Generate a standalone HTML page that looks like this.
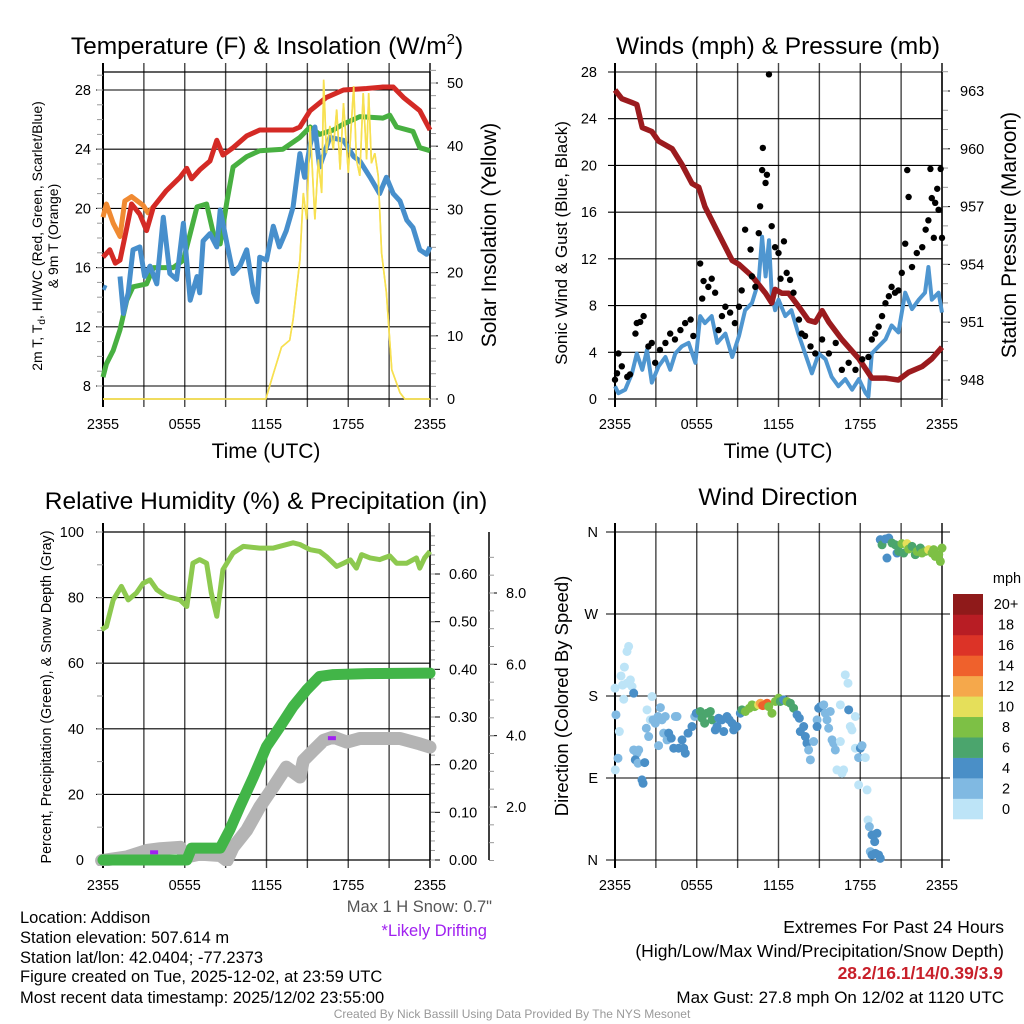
<!DOCTYPE html>
<html><head><meta charset="utf-8"><style>
html,body{margin:0;padding:0;background:#fff;}
svg{display:block;font-family:"Liberation Sans",Arial,sans-serif;}
</style></head><body>
<svg id="fig" width="1024" height="1024" viewBox="0 0 1024 1024" xmlns="http://www.w3.org/2000/svg">
<g id="static">
<text x="267" y="54" font-size="24.5" text-anchor="middle">Temperature (F) &amp; Insolation (W/m<tspan dy="-10" font-size="15">2</tspan><tspan dy="10">)</tspan></text>
<text x="778" y="54" font-size="24.5" text-anchor="middle">Winds (mph) &amp; Pressure (mb)</text>
<text x="266" y="509" font-size="24.5" text-anchor="middle">Relative Humidity (%) &amp; Precipitation (in)</text>
<text x="778" y="505" font-size="24.5" text-anchor="middle">Wind Direction</text>

<text x="266" y="458" font-size="21" text-anchor="middle">Time (UTC)</text>
<text x="778" y="458" font-size="21" text-anchor="middle">Time (UTC)</text>

<text transform="translate(42,236) rotate(-90)" font-size="14" text-anchor="middle">2m T, T<tspan font-size="10" dy="3">d</tspan><tspan dy="-3">, HI/WC (Red, Green, Scarlet/Blue)</tspan></text>
<text transform="translate(58,236) rotate(-90)" font-size="14" text-anchor="middle">&amp; 9m T (Orange)</text>
<text transform="translate(496,235) rotate(-90)" font-size="21" text-anchor="middle">Solar Insolation (Yellow)</text>
<text transform="translate(567,243) rotate(-90)" font-size="17" text-anchor="middle">Sonic Wind &amp; Gust (Blue, Black)</text>
<text transform="translate(1016,235) rotate(-90)" font-size="21" text-anchor="middle">Station Pressure (Maroon)</text>
<text transform="translate(51,697) rotate(-90)" font-size="14.3" text-anchor="middle">Percent, Precipitation (Green), &amp; Snow Depth (Gray)</text>
<text transform="translate(568,696) rotate(-90)" font-size="18.5" text-anchor="middle">Direction (Colored By Speed)</text>

<text x="492" y="912" font-size="16.5" fill="#555" text-anchor="end">Max 1 H Snow: 0.7"</text>
<text x="487" y="936" font-size="16.5" fill="#a020f0" text-anchor="end">*Likely Drifting</text>

<g font-size="16.5">
<text x="20" y="923">Location: Addison</text>
<text x="20" y="943">Station elevation: 507.614 m</text>
<text x="20" y="963">Station lat/lon: 42.0404; -77.2373</text>
<text x="20" y="982">Figure created on Tue, 2025-12-02, at 23:59 UTC</text>
<text x="20" y="1003">Most recent data timestamp: 2025/12/02 23:55:00</text>
</g>
<g font-size="17" text-anchor="end">
<text x="1004" y="933" font-size="17.5">Extremes For Past 24 Hours</text>
<text x="1004" y="957" font-size="17.5">(High/Low/Max Wind/Precipitation/Snow Depth)</text>
<text x="1003" y="979" font-size="17.5" fill="#c8202a" font-weight="bold">28.2/16.1/14/0.39/3.9</text>
<text x="1004" y="1003">Max Gust: 27.8 mph On 12/02 at 1120 UTC</text>
</g>
<text x="512" y="1018" font-size="12" fill="#999" text-anchor="middle">Created By Nick Bassill Using Data Provided By The NYS Mesonet</text>
</g>
<g id="dyn"></g>
</svg>
<script>
// ---------- DATA ----------
const timeTicks = ["2355","0555","1155","1755","2355"];
// Temperature panel
const redT = [0,0.5,0.9,1.25,1.75,2.1,2.7,3.2,3.7,4.65,5.65,6.15,6.5,7.1,7.85,8.35,8.8,9.55,10.55,11.5,13.95,14.45,15.2,16.4,17.65,19.35,20.55,21.3,22.05,23.25,24];
const redV = [16.7,17.2,16.3,16.5,18.7,20.3,19.6,18.5,20.1,21.2,22.1,22.7,22.0,22.6,23.2,24.6,23.6,24.1,24.9,25.3,25.3,25.5,26.6,27.5,28.0,28.1,28.2,28.2,27.5,26.6,25.3];
const orangeT = [0,0.25,0.75,1.25,1.6,2.1,2.95,3.3,3.7];
const orangeV = [19.4,20.3,19.0,18.1,20.5,20.8,20.2,19.7,20.1];
const greenT = [0,0.25,0.75,1.25,1.75,2.2,3.2,3.7,5.15,5.9,6.4,6.9,7.6,8.1,8.6,9.1,9.55,10.55,11.5,13.2,14.45,15.2,15.9,16.9,17.65,18.85,20.55,21.05,21.55,22.75,23.25,24];
const greenV = [8.6,9.5,10.4,11.8,13.8,14.7,14.9,16.0,16.0,16.5,18.3,20.1,20.3,18.3,17.6,20.5,22.8,23.5,23.9,24.0,24.8,25.5,25.0,25.3,25.7,26.2,26.1,26.3,25.5,25.2,24.1,23.9];
const blueT = [0,0.25,null,1.25,1.5,1.85,2.2,2.7,3.05,3.45,3.95,4.425,4.9,5.4,5.9,6.4,6.9,7.1,7.35,7.85,8.35,8.6,9.1,9.55,10.05,10.55,11.05,11.3,11.5,12.0,12.5,12.95,13.45,13.95,14.45,14.8,15.2,15.55,15.9,16.3,16.65,17.65,18.4,18.85,19.6,20.3,20.8,21.3,21.8,22.3,22.75,23.25,23.75,24];
const blueV = [14.7,14.6,null,15.4,12.9,14.3,17.2,17.4,15.4,16.1,14.9,19.4,15.6,15.2,19.0,13.8,15.4,14.3,17.8,18.3,17.4,19.9,17.6,15.6,16.1,17.2,14.3,13.7,16.7,16.5,18.8,17.4,18.5,20.1,23.7,22.1,24.3,25.5,22.8,23.9,24.8,24.6,23.5,23.2,22.1,21.0,22.1,21.0,20.5,19.2,18.7,17.2,16.9,17.4];
const solarT = [0,11.95,12.45,13.1,13.7,13.95,14.45,14.7,14.95,15.2,15.55,15.8,16.05,16.2,16.4,16.65,16.9,17.15,17.4,17.65,18.0,18.4,18.6,18.85,19.1,19.35,19.5,19.7,19.95,20.2,20.45,20.8,21.2,21.8,22.15,24];
const solarV = [0,0,3.6,8.2,9.3,12.6,22.0,32.6,28.4,43.2,28.4,37.9,32.6,50.5,38.9,43.2,39.5,45.8,36.3,46.8,35.8,49.5,37.9,35.3,48.4,37.9,48.4,37.3,38.9,35.3,23.1,16.8,4.6,1.0,0,0];
const tempTicks = [8,12,16,20,24,28];
const solarTicks = [0,10,20,30,40,50];
// Wind panel
const windT = [0,0.25,0.75,1.25,1.6,2.0,2.35,2.7,3.2,3.7,4.05,4.425,4.9,5.4,5.9,6.25,6.6,7.1,7.5,8.1,8.6,9.1,9.55,10.05,10.55,10.8,11.05,11.3,11.5,11.75,12.0,12.5,12.95,13.45,13.95,14.45,14.95,15.45,15.9,16.4,16.9,17.4,17.9,18.4,18.6,18.85,19.35,19.85,20.3,20.8,21.3,21.8,22.3,22.75,23.0,23.25,23.75,24];
const windV = [1.1,0.5,0.8,2.2,3.9,2.5,4.2,1.4,2.8,3.6,2.5,3.9,4.5,4.8,3.1,7.1,6.5,7.1,4.8,5.6,3.6,5.4,7.6,8.2,10.1,13.9,10.5,13.6,9.0,7.6,8.5,7.1,7.6,5.6,3.9,2.2,3.9,3.4,1.9,1.1,1.7,0.8,1.7,0.5,0.2,3.9,4.5,5.1,6.3,5.7,9.1,7.7,8.5,9.1,11.3,8.5,9.1,7.4];
const gustT = [0,0.15,0.25,0.5,0.9,1.1,1.5,1.6,1.85,2.1,2.45,2.7,2.95,3.3,3.7,4.05,4.4,4.8,5.15,5.55,5.75,6.25,6.4,6.5,6.85,7.1,7.35,7.6,7.85,8.1,8.45,8.8,9.1,9.3,9.55,9.95,10.05,10.3,10.55,10.65,10.8,10.85,11.05,11.15,11.3,11.5,11.75,12.0,12.15,12.4,12.6,12.85,13.1,13.5,13.7,13.95,14.35,14.7,15.2,15.7,16.2,16.65,17.15,17.65,18.15,18.6,18.85,19.1,19.35,19.6,19.85,20.1,20.3,20.55,20.8,21.05,21.3,21.45,21.55,21.8,22.15,22.55,22.8,23.0,23.15,23.25,23.4,23.5,23.65,23.75,23.9,24];
const gustV = [1.65,2.2,3.9,2.8,1.9,2.1,5.6,6.5,6.6,7.1,4.5,4.8,3.1,4.2,4.8,5.6,5.1,5.9,6.5,6.8,5.4,11.6,8.6,10.1,9.6,10.3,9.1,5.9,7.1,7.9,7.4,6.5,7.9,9.3,14.5,12.8,10.5,9.6,14.2,16.5,19.6,21.5,18.5,19.2,27.8,14.8,13.0,12.5,10.3,13.5,10.8,10.2,9.1,6.8,5.6,5.4,4.5,3.9,5.1,3.9,4.8,2.5,3.1,2.5,3.4,3.6,5.1,5.6,6.2,7.1,8.2,8.8,9.6,9.1,9.3,10.8,13.3,19.6,17.3,11.3,12.5,13.0,14.5,15.3,19.7,17.2,13.8,16.8,18.0,16.2,19.7,13.8];
const presT = [0,0.5,1.25,1.6,2.0,2.7,3.2,4.2,4.9,5.65,6.15,6.6,7.6,8.6,9.1,10.05,11.05,11.5,11.75,12.25,12.75,13.5,14.2,14.7,15.2,15.7,16.65,17.9,18.85,19.85,20.8,21.55,22.55,23.25,24];
const presV = [963.05,962.6,962.4,962.3,961.1,960.9,960.4,960.0,959.2,958.2,958.0,957.0,955.6,954.2,954.0,953.4,952.5,952.0,952.7,952.5,952.5,951.8,951.1,951.0,951.6,951.0,950.1,949.1,948.1,948.1,948.0,948.4,948.7,949.1,949.7];
const windTicks = [0,4,8,12,16,20,24,28];
const presTicks = [948,951,954,957,960,963];
// Humidity panel
const rhT = [-0.1,0.25,0.75,1.35,1.85,2.45,2.95,3.45,3.95,4.65,5.65,6.15,6.6,7.1,7.6,7.95,8.35,8.8,9.55,10.3,11.5,12.5,13.95,14.45,15.2,15.9,16.4,16.9,17.15,17.65,18.15,18.6,18.98,19.6,20.3,21.05,21.55,22.3,23.0,23.25,23.6,24];
const rhV = [70.2,71.2,79.3,83.4,79.3,81.4,84.4,85.4,82.4,80.4,79.3,77.3,90.5,91.6,90.5,81.4,74.3,88.5,93.6,95.6,95.1,95.1,96.7,96.2,94.6,94.1,92.5,90.5,89.5,90.5,91.5,89.0,93.1,92.1,91.6,92.7,90.5,90.5,92.1,89.0,92.1,94.1];
const precipT = [0,6.15,6.5,8.6,9.3,10.05,11.05,12.0,13.0,13.95,14.95,15.9,16.9,19.35,24];
const precipV = [0,0,0.025,0.025,0.063,0.112,0.175,0.238,0.28,0.322,0.357,0.385,0.389,0.391,0.392];
const snowT = [-0.1,1.75,3.2,4.2,5.65,6.15,7.1,8.6,9.1,9.55,10.55,11.5,12.5,13.45,14.45,14.7,15.45,16.2,16.9,17.9,18.85,21.8,23.25,24];
const snowV = [0.5,0.6,0.78,0.83,0.87,0.6,0.68,0.64,0.5,0.87,1.35,2.0,2.56,3.12,2.84,3.3,3.59,3.87,3.96,3.82,3.92,3.92,3.77,3.68];
const driftT = [3.75,16.8];
const driftV = [0.73,3.93];
const rhTicks = [0,20,40,60,80,100];
const precipTicks = ["0.00","0.10","0.20","0.30","0.40","0.50","0.60"];
const snowTicks = ["2.0","4.0","6.0","8.0"];
// Direction panel (hours, degrees, mph)
const dirT = [
0,0.07,0.22,0.02,0.32,0.44,0.56,0.69,0.64,0.88,
1.0,1.13,0.88,1.25,1.37,1.37,1.61,1.49,1.74,1.69,
1.98,2.06,2.18,2.3,2.35,2.47,2.59,2.72,2.79,2.96,
3.16,3.33,3.2,3.45,3.57,3.69,3.82,3.94,4.13,4.31,
4.43,4.55,4.67,4.92,5.04,5.16,5.36,5.65,5.85,5.97,
6.26,6.39,6.58,6.75,7.0,7.12,7.36,7.49,7.61,7.85,
7.98,8.22,8.39,8.59,8.71,8.95,9.2,9.32,9.57,9.86,
10.06,10.25,10.54,10.67,10.84,11.03,11.16,11.28,11.52,11.77,
12.01,12.13,12.38,12.62,12.87,13.11,13.36,13.53,13.6,13.85,
13.97,14.09,14.21,14.34,14.58,14.83,14.83,14.95,15.07,15.32,
15.44,15.56,15.68,15.8,15.93,16.05,16.17,16.29,16.54,16.54,
16.66,16.78,16.9,17.1,17.15,17.27,17.39,17.64,17.64,17.88,
18.01,18.13,18.37,17.88,18.5,18.57,18.67,18.86,19.06,18.98,
19.23,18.74,18.86,19.11,19.35,19.47,
19.47,19.6,19.84,19.96,20.09,20.33,20.57,20.7,20.82,21.06,
21.19,21.43,21.55,21.8,22.04,22.17,22.41,22.53,22.78,23.02,
23.27,23.39,23.51,23.76,23.88,24];
const dirD = [
188.6,159.3,111.7,98.9,141,202,192,211.7,176.5,228.9,
234.4,197.7,194,190.4,183.1,120.8,117.2,109.9,120.8,106.2,
87.9,84.2,106.9,144.6,164.8,135.5,153.8,179.4,153.8,150.1,
157.5,167.3,125.6,153.8,139.2,157.5,131.8,139.2,133.7,122.7,
157.5,157.5,122.7,131.8,122.7,117.2,139.2,146.5,157.5,161.1,
163,155.6,150.1,161.1,163,153.8,142.8,146.5,155.6,153.8,
141,157.5,153.8,150.1,142.8,146.5,161.1,164.8,163,166.6,
170.3,168.4,170.3,172.1,169.5,170.3,172.1,168.4,161.1,174,
177.6,174,175.8,174,172.1,166.6,159.3,155.6,141,146.5,
135.5,128.2,120.8,109.9,130,153.8,146.5,166.6,168.4,170.3,
161.1,153.8,144.6,163,131.8,128.2,120.8,98.9,130,170.3,
95.2,98.9,203.2,194,164.8,146.5,142.8,157.5,122.7,112.4,
122.7,125.6,112.4,82.4,76.9,43.9,36.6,27.5,20.1,27.5,
29.3,9.2,5.5,7.3,5.5,1.8,
351.6,346,352.3,331.4,353.4,347.9,346,336.9,338.7,347.2,
336.9,347.2,341.3,344.2,335.1,338.7,342.4,336.9,338.7,340.6,
336.9,340.6,333.2,335.1,327.7,342.4];
const dirS = [
1,3,3,1,1,1,1,1,1,1,
1,1,1,1,4,3,3,4,3,3,
4,4,4,3,1,3,1,1,3,3,
3,3,3,3,3,3,3,4,4,4,
3,3,4,4,4,4,4,4,3,4,
6,6,6,6,6,6,4,4,4,4,
4,4,4,4,4,4,4,6,8,8,
8,8,10,12,14,14,14,8,8,8,
8,6,4,8,6,6,4,4,4,4,
4,4,3,3,3,3,4,4,4,3,
3,3,3,3,3,3,3,1,1,1,
1,1,1,1,4,1,1,1,1,3,
4,3,1,1,1,1,3,4,4,4,
4,3,4,4,4,4,
4,6,4,4,4,6,6,4,6,8,
6,10,8,6,6,8,6,8,8,10,
8,8,8,8,8,8];
const speedBins = ["0","2","4","6","8","10","12","14","16","18","20+"];
const speedColors = ["#bde4f7","#80b9e2","#4a8fc7","#4ba56d","#7dc045","#e5df5a","#f5a84b","#ef612c","#dc3327","#b81d24","#8f1a1a"];
const dirTicks = ["N","E","S","W","N"];

// ---------- DRAW ----------
const NS = "http://www.w3.org/2000/svg";
const dyn = document.getElementById("dyn");
function el(tag, attrs, parent) {
  const e = document.createElementNS(NS, tag);
  for (const k in attrs) e.setAttribute(k, attrs[k]);
  (parent || dyn).appendChild(e);
  return e;
}
const TOP1 = 72, BOT1 = 399, TOP3 = 532, BOT3 = 860;
function xs(x0) { return t => x0 + t * 327 / 24; }
function lin(v0, v1, p0, p1) { return v => p0 + (v - v0) * (p1 - p0) / (v1 - v0); }

function linePath(T, V, fx, fy) {
  let d = "", pen = false;
  for (let i = 0; i < T.length; i++) {
    if (T[i] === null || V[i] === null) { pen = false; continue; }
    d += (pen ? "L" : "M") + fx(T[i]).toFixed(1) + "," + fy(V[i]).toFixed(1);
    pen = true;
  }
  return d;
}

function frame(x0, top, bot, name) {
  const g = el("g", {});
  
  
  for (let k = 0; k <= 8; k++) {
    const x = x0 + k * 327 / 8;
    const ln = el("line", {x1: x, x2: x, y1: top - 9, y2: bot + 8, stroke: k === 0 || k === 8 ? "#000" : "#444", "stroke-width": k === 0 ? 2 : 1.4}, g);
    
    
  }
  timeTicks.forEach((lab, i) => {
    const tx = el("text", {x: x0 + i * 327 / 4, y: bot + 30, "font-size": 14.5, "text-anchor": "middle"}, g);
    tx.textContent = lab;
    
    
  });
  return g;
}
function hgrid(g, x0, y, x1) {
  const ln = el("line", {x1: x0, x2: x1, y1: y, y2: y, stroke: "#000", "stroke-width": 1.1}, g);
  
  
}
function label(g, x, y, txt, anchor, size, name) {
  const t = el("text", {x: x, y: y + 5, "font-size": size || 14.5, "text-anchor": anchor}, g);
  t.textContent = txt;
  
  
  return t;
}
function minor(g, x, y, len) {
  el("line", {x1: x, x2: x + len, y1: y, y2: y, stroke: "#999", "stroke-width": 1}, g);
}

// Panel 1 — temperature
(function () {
  const fx = xs(103), fy = lin(8, 28, 386, 90), fs = lin(0, 50, 399, 83);
  const g = frame(103, TOP1, BOT1, "temperature");
  tempTicks.forEach(v => { hgrid(g, 96, fy(v), 430); label(g, 91, fy(v), v, "end", 14.5, "temp-y-tick"); });
  for (let v = 8; v <= 29; v++) minor(g, 97, fy(v), 6);
  solarTicks.forEach(v => { el("line", {x1: 430, x2: 438, y1: fs(v), y2: fs(v), stroke: "#000"}, g); label(g, 447, fs(v), v, "start", 14.5, "solar-y-tick"); });
  for (let v = 0; v <= 52; v += 2) minor(g, 430, fs(v), 6);
  el("line", {x1: 103, x2: 430, y1: TOP1, y2: TOP1, stroke: "#000", "stroke-width": 1.2}, g);
  el("line", {x1: 430, x2: 430, y1: TOP1, y2: BOT1, stroke: "#000", "stroke-width": 1.4}, g);
  el("line", {x1: 103, x2: 430, y1: BOT1, y2: BOT1, stroke: "#000", "stroke-width": 1.2}, g);
  const s1 = el("path", {d: linePath(solarT, solarV, fx, fs), fill: "none", stroke: "#f7e051", "stroke-width": 1.6});
  
  
  const o = el("path", {d: linePath(orangeT, orangeV, fx, fy), fill: "none", stroke: "#f08a32", "stroke-width": 5, "stroke-linejoin": "round"});
  
  
  const gr = el("path", {d: linePath(greenT, greenV, fx, fy), fill: "none", stroke: "#48b041", "stroke-width": 5, "stroke-linejoin": "round"});
  
  
  const b = el("path", {d: linePath(blueT, blueV, fx, fy), fill: "none", stroke: "#478fcc", "stroke-width": 5, "stroke-linejoin": "round"});
  
  
  const r = el("path", {d: linePath(redT, redV, fx, fy), fill: "none", stroke: "#d42a25", "stroke-width": 5, "stroke-linejoin": "round"});
  
  
  const s2 = el("path", {d: linePath(solarT, solarV, fx, fs), fill: "none", stroke: "#f7e051", "stroke-width": 1.6});
  
  
})();

// Panel 2 — wind & pressure
(function () {
  const fx = xs(615), fy = lin(0, 28, 399, 72), fp = lin(948, 963, 380, 91);
  const g = frame(615, TOP1, BOT1, "wind");
  windTicks.forEach(v => { hgrid(g, 608, fy(v), 942); label(g, 597, fy(v), v, "end", 14.5, "wind-y-tick"); });
  presTicks.forEach(v => { el("line", {x1: 942, x2: 950, y1: fp(v), y2: fp(v), stroke: "#000"}, g); label(g, 960, fp(v), v, "start", 14.5, "pressure-y-tick"); });
  for (let v = 947; v <= 964; v++) minor(g, 942, fp(v), 6);
  el("line", {x1: 942, x2: 942, y1: TOP1, y2: BOT1, stroke: "#000", "stroke-width": 1.4}, g);
  el("line", {x1: 615, x2: 942, y1: BOT1, y2: BOT1, stroke: "#000", "stroke-width": 1.2}, g);
  const w = el("path", {d: linePath(windT, windV, fx, fy), fill: "none", stroke: "#4f96d0", "stroke-width": 4, "stroke-linejoin": "round"});
  
  
  const p = el("path", {d: linePath(presT, presV, fx, fp), fill: "none", stroke: "#9b1b1e", "stroke-width": 5.5, "stroke-linejoin": "round"});
  
  
  gustT.forEach((t, i) => {
    const c = el("circle", {cx: fx(t), cy: fy(gustV[i]), r: 3.2, fill: "#000"});
    
    
  });
})();

// Panel 3 — humidity
(function () {
  const fx = xs(103), fy = lin(0, 100, 860, 532), fp = lin(0, 0.6, 860, 574), fsn = lin(2, 8, 807, 593);
  const g = frame(103, TOP3, BOT3, "humidity");
  rhTicks.forEach(v => { hgrid(g, 96, fy(v), 430); label(g, 84, fy(v), v, "end", 14.5, "rh-y-tick"); });
  for (let v = 0; v <= 100; v += 10) minor(g, 97, fy(v), 6);
  precipTicks.forEach(v => { el("line", {x1: 430, x2: 440, y1: fp(+v), y2: fp(+v), stroke: "#000"}, g); label(g, 449, fp(+v), v, "start", 14.5, "precip-y-tick"); });
  for (let v = 0; v <= 0.69; v += 0.02) minor(g, 430, fp(v), 5);
  el("line", {x1: 489, x2: 489, y1: 532, y2: 860, stroke: "#000", "stroke-width": 1.5}, g);
  snowTicks.forEach(v => { el("line", {x1: 489, x2: 497, y1: fsn(+v), y2: fsn(+v), stroke: "#000"}, g); label(g, 506, fsn(+v), v, "start", 14.5, "snow-y-tick"); });
  for (let v = 0.5; v <= 9.2; v += 0.5) minor(g, 489, fsn(v), 5);
  el("line", {x1: 103, x2: 430, y1: TOP3, y2: TOP3, stroke: "#000", "stroke-width": 1.2}, g);
  el("line", {x1: 430, x2: 430, y1: TOP3, y2: BOT3, stroke: "#000", "stroke-width": 1.4}, g);
  el("line", {x1: 103, x2: 430, y1: BOT3, y2: BOT3, stroke: "#000", "stroke-width": 1.2}, g);
  const clip = el("clipPath", {id: "c3"});
  el("rect", {x: 90, y: 520, width: 360, height: 346}, clip);
  const s = el("path", {d: linePath(snowT, snowV, fx, fsn), fill: "none", stroke: "#b4b4b4", "stroke-width": 13, "stroke-linejoin": "round", "stroke-linecap": "round", "clip-path": "url(#c3)"});
  
  
  const pr = el("path", {d: linePath(precipT, precipV, fx, fp), fill: "none", stroke: "#42b548", "stroke-width": 11, "stroke-linejoin": "round", "stroke-linecap": "round"});
  
  
  const rh = el("path", {d: linePath(rhT, rhV, fx, fy), fill: "none", stroke: "#8dc94f", "stroke-width": 5, "stroke-linejoin": "round"});
  
  
  driftT.forEach((t, i) => {
    const m = el("rect", {x: fx(t) - 4, y: fsn(driftV[i]) - 2, width: 8, height: 4, fill: "#a020f0"});
    
    
  });
})();

// Panel 4 — wind direction
(function () {
  const fx = xs(615), fy = lin(0, 360, 860, 532);
  const g = frame(615, TOP3, BOT3, "direction");
  dirTicks.forEach((lab, i) => { hgrid(g, 606, fy(i * 90), 950); label(g, 598, fy(i * 90), lab, "end", 14.5, "direction-y-tick"); });
  dirT.forEach((t, i) => {
    const bin = Math.max(0, Math.min(10, Math.floor((dirS[i] || 0) / 2)));
    const c = el("circle", {cx: fx(t), cy: fy(dirD[i]), r: 4.5, fill: speedColors[bin]});
    
    
  });
  const lg = el("g", {});
  
  
  const h = 225 / 11;
  speedBins.forEach((lab, i) => {
    const y = 819 - (i + 1) * h;
    const r = el("rect", {x: 953, y: y, width: 30, height: h + 0.3, fill: speedColors[i]}, lg);
    
    
    label(lg, 1006, y + h / 2, lab, "middle", 14.5, "colorbar-label");
  });
  label(lg, 1007, 578, "mph", "middle", 14.5, "colorbar-title");
})();
</script>
</body></html>
